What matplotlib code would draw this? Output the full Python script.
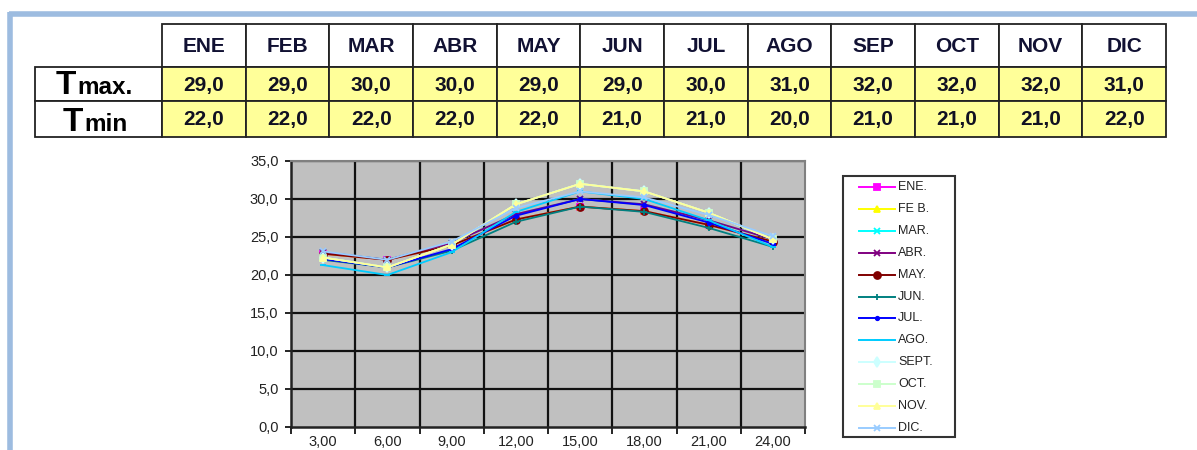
import matplotlib
matplotlib.use("Agg")
import matplotlib.pyplot as plt
from matplotlib.patches import Rectangle

plt.rcParams['font.family'] = ['Liberation Sans', 'DejaVu Sans']

# ---------------- data ----------------
months = ["ENE", "FEB", "MAR", "ABR", "MAY", "JUN", "JUL", "AGO", "SEP", "OCT", "NOV", "DIC"]
tmax = [29.0, 29.0, 30.0, 30.0, 29.0, 29.0, 30.0, 31.0, 32.0, 32.0, 32.0, 31.0]
tmin = [22.0, 22.0, 22.0, 22.0, 22.0, 21.0, 21.0, 20.0, 21.0, 21.0, 21.0, 22.0]

hours = ["3,00", "6,00", "9,00", "12,00", "15,00", "18,00", "21,00", "24,00"]
series_names = ["ENE.", "FE B.", "MAR.", "ABR.", "MAY.", "JUN.", "JUL.", "AGO.",
                "SEPT.", "OCT.", "NOV.", "DIC."]
ene = [22.8, 22.0, 23.9, 27.3, 29.0, 28.4, 26.6, 24.4]
feb = [22.8, 22.0, 23.9, 27.3, 29.0, 28.4, 26.6, 24.4]
mar = [23.0, 22.0, 24.2, 28.0, 30.0, 29.3, 27.2, 24.7]
abr = [23.0, 22.0, 24.2, 28.0, 30.0, 29.3, 27.2, 24.7]
may = [22.8, 22.0, 23.9, 27.3, 29.0, 28.4, 26.6, 24.4]
jun = [22.0, 21.0, 23.2, 27.0, 29.0, 28.3, 26.2, 23.7]
jul = [22.1, 21.0, 23.4, 27.8, 30.0, 29.2, 26.9, 24.1]
ago = [21.3, 20.0, 23.0, 28.3, 31.0, 30.0, 27.2, 23.7]
sep = [22.3, 21.0, 24.0, 29.3, 32.0, 31.0, 28.2, 24.7]
oct_ = [22.3, 21.0, 24.0, 29.3, 32.0, 31.0, 28.2, 24.7]
nov = [22.3, 21.0, 24.0, 29.3, 32.0, 31.0, 28.2, 24.7]
dic = [23.1, 22.0, 24.4, 28.8, 31.0, 30.2, 27.9, 25.1]
series_values = [ene, feb, mar, abr, may, jun, jul, ago, sep, oct_, nov, dic]

colors = ["#FF00FF", "#FFFF00", "#00FFFF", "#800080", "#800000", "#008080",
          "#0000FF", "#00CCFF", "#CCFFFF", "#CCFFCC", "#FFFF99", "#99CCFF"]
markers = ["s", "^", "x", "x", "o", "+", ".", "_", "d", "s", "^", "x"]

W, H = 1197, 450
fig = plt.figure(figsize=(W / 100, H / 100), dpi=100)

# overlay axes in pixel coordinates
ov = fig.add_axes([0, 0, 1, 1])
ov.set_xlim(0, W)
ov.set_ylim(H, 0)
ov.axis("off")

# outer frame (blue border)
frame_c = "#9DBCE0"
ov.plot([9, W + 5], [14, 14], color=frame_c, lw=4, solid_capstyle="butt")
ov.plot([9.5, 9.5], [12, H + 5], color=frame_c, lw=4, solid_capstyle="butt")

# ---------------- table ----------------
x0, x1 = 162, 1166
lab_x0 = 35
cw = (x1 - x0) / 12
rows_y = [24, 67, 101, 137]
yellow = "#FFFF99"

for i, m in enumerate(months):
    cx = x0 + i * cw
    ov.add_patch(Rectangle((cx, rows_y[0]), cw, rows_y[1] - rows_y[0],
                           facecolor="white", edgecolor="#222222", lw=1.3))
    ov.text(cx + cw / 2, (rows_y[0] + rows_y[1]) / 2 + 1, m, ha="center", va="center",
            fontsize=15, fontweight="bold", color="#111133")
for r, vals in enumerate([tmax, tmin]):
    ya, yb = rows_y[r + 1], rows_y[r + 2]
    ov.add_patch(Rectangle((lab_x0, ya), x0 - lab_x0, yb - ya,
                           facecolor="white", edgecolor="#222222", lw=1.3))
    for i, v in enumerate(vals):
        cx = x0 + i * cw
        ov.add_patch(Rectangle((cx, ya), cw, yb - ya,
                               facecolor=yellow, edgecolor="#222222", lw=1.3))
        ov.text(cx + cw / 2, (ya + yb) / 2 + 1, f"{v:.1f}".replace(".", ","),
                ha="center", va="center", fontsize=15, fontweight="bold",
                color="#111122")

# row labels  "T" + "max." / "min"
ov.text(56, 94, "T", fontsize=24, fontweight="bold", ha="left", va="baseline", color="black")
ov.text(77, 94, "max.", fontsize=17.5, fontweight="bold", ha="left", va="baseline", color="black")
ov.text(63, 131, "T", fontsize=24, fontweight="bold", ha="left", va="baseline", color="black")
ov.text(84, 131, "min", fontsize=17.5, fontweight="bold", ha="left", va="baseline", color="black")

# ---------------- chart ----------------
pl, pr, pt, pb = 291, 805, 161, 427
ax = fig.add_axes([pl / W, 1 - pb / H, (pr - pl) / W, (pb - pt) / H])
ax.set_facecolor("#C0C0C0")
xs = list(range(len(hours)))
for name, vals, c, mk in zip(series_names, series_values, colors, markers):
    ax.plot(xs, vals, color=c, lw=1.3, marker=mk, markersize=5,
            markeredgewidth=1.3, markerfacecolor=c, markeredgecolor=c, label=name)

ax.set_xlim(-0.5, len(hours) - 0.5)
ax.set_ylim(0, 35)
ax.set_yticks(range(0, 36, 5))
ax.set_yticklabels([f"{v:.1f}".replace(".", ",") for v in range(0, 36, 5)],
                   fontsize=10.5, color="#222222")
ax.set_xticks(xs)
ax.set_xticklabels(hours, fontsize=10.5, color="#222222")
ax.tick_params(axis="x", length=0, pad=6)
ax.set_xticks([i + 0.5 for i in range(-1, len(hours))], minor=True)
ax.tick_params(axis="x", which="minor", length=5, width=1.2, color="black", direction="out")
ax.tick_params(axis="y", length=4, width=1.2, color="black", direction="out", pad=5)
ax.grid(False)
for v in range(5, 36, 5):
    ax.axhline(v, color="#111111", lw=1.6, zorder=0.5)
for i in range(len(hours) - 1):
    ax.axvline(i + 0.5, color="#111111", lw=1.6, zorder=0.5)
ax.set_axisbelow(True)
for s in ["top", "right"]:
    ax.spines[s].set_color("#808080")
    ax.spines[s].set_linewidth(1.5)
for s in ["left", "bottom"]:
    ax.spines[s].set_color("#222222")
    ax.spines[s].set_linewidth(1.8)

# legend (drawn in pixel space)
lx0, ly0, lx1, ly1 = 843, 176, 955, 437
ov.add_patch(Rectangle((lx0, ly0), lx1 - lx0, ly1 - ly0, facecolor="white",
                       edgecolor="#333333", lw=1.5))
row0, rstep = 187, 21.9
for i, (name, c, mk) in enumerate(zip(series_names, colors, markers)):
    y = row0 + i * rstep
    ov.plot([859, 895], [y, y], color=c, lw=1.4)
    ov.plot([877], [y], marker=mk, color=c, markersize=5, markeredgewidth=1.3,
            markerfacecolor=c, markeredgecolor=c)
    ov.text(898, y, name, ha="left", va="center", fontsize=9, color="#222222")

fig.savefig("out.png", dpi=100)
